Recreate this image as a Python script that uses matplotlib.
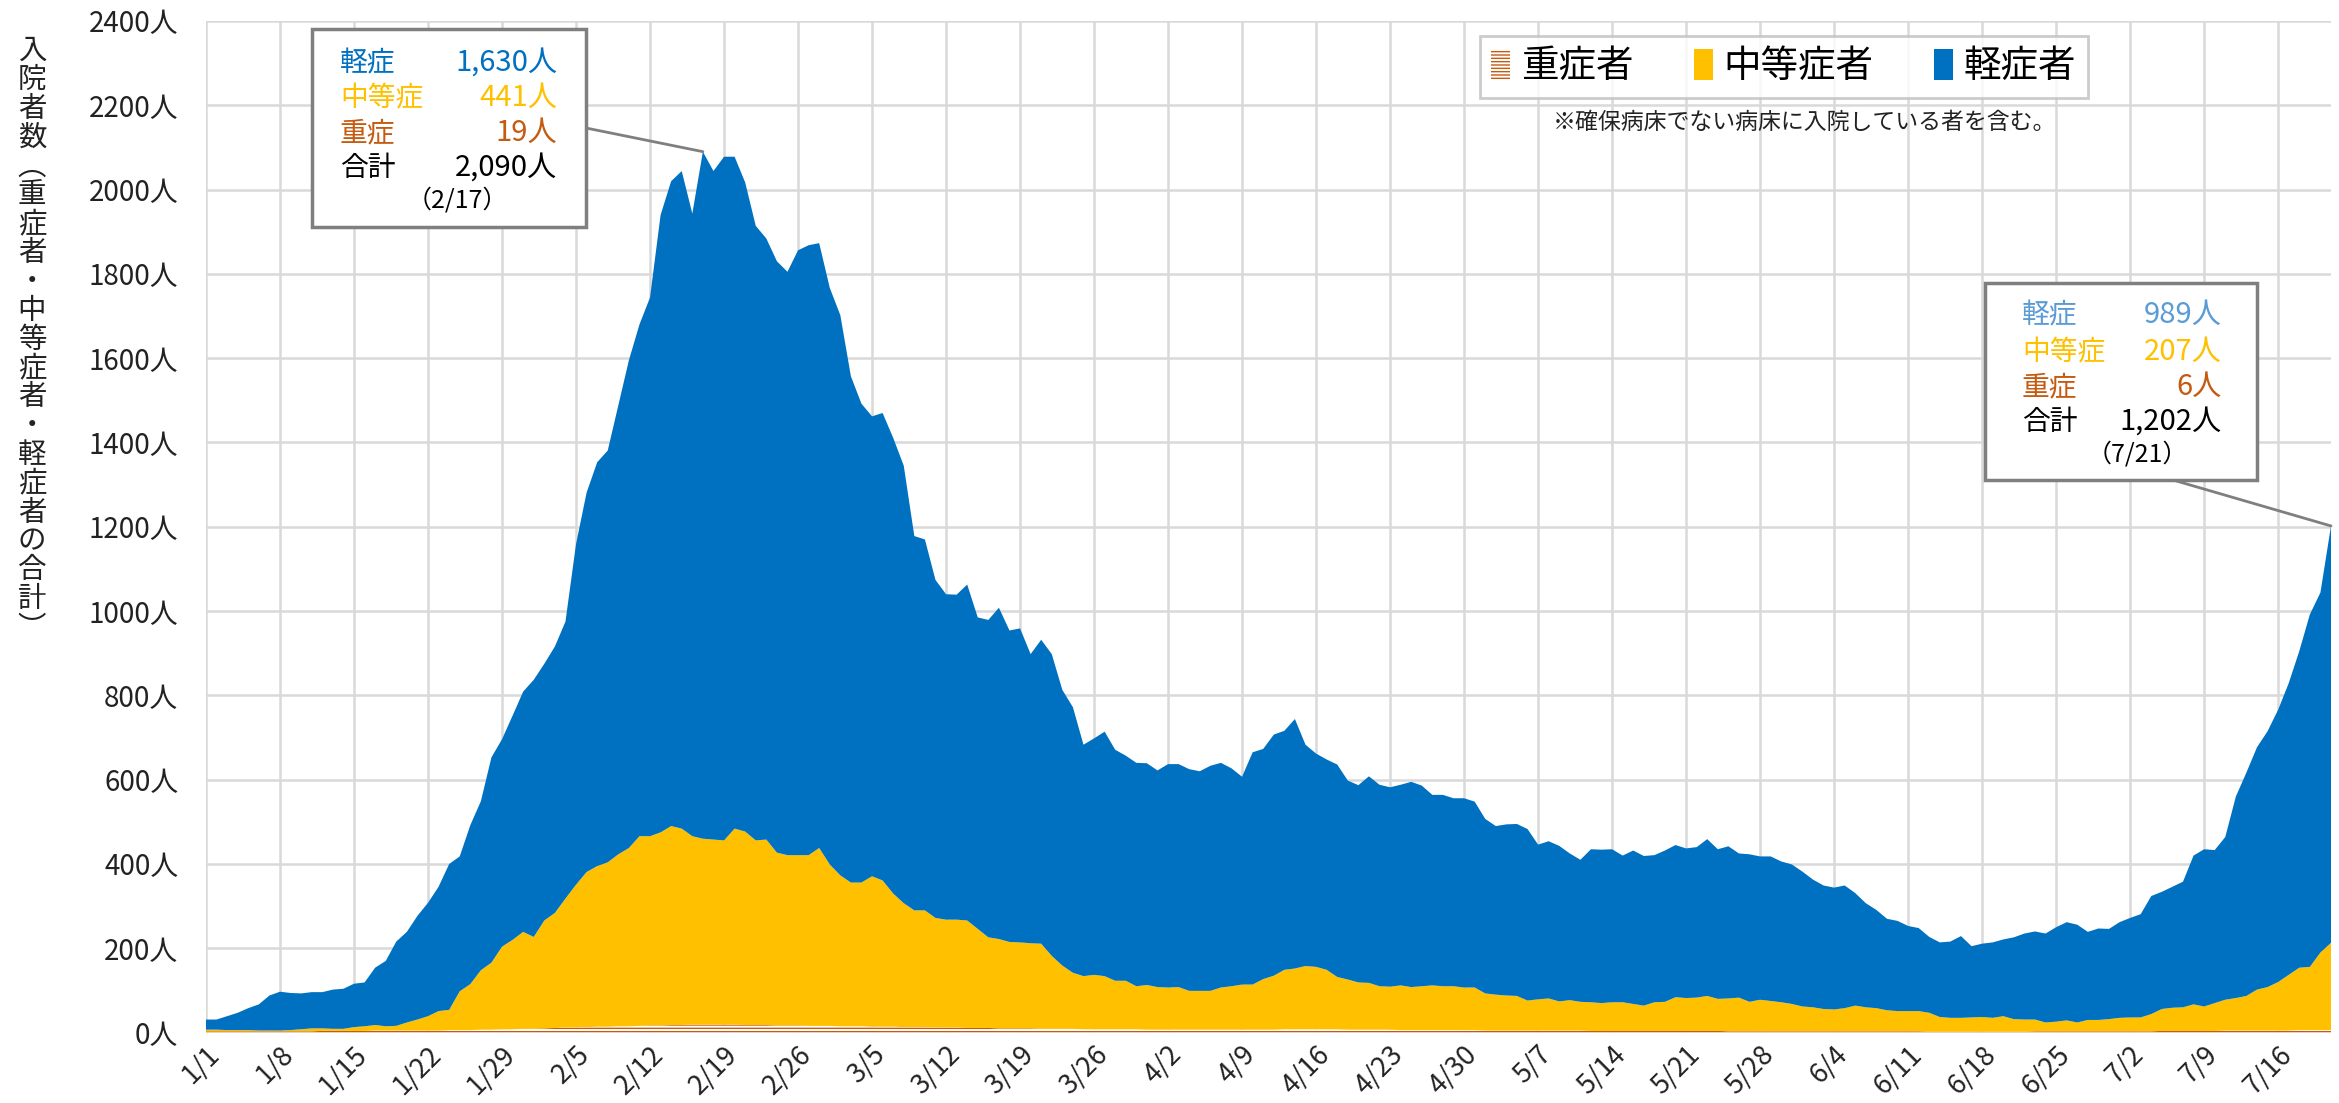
import matplotlib
matplotlib.use("Agg")
import matplotlib.pyplot as plt
from matplotlib.patches import Rectangle, Patch, ConnectionPatch

plt.rcParams["font.family"] = ["Noto Sans CJK JP", "DejaVu Sans"]

W, H = 2339, 1103


def fx(x):
    return x / W


def fy(y):
    return 1 - y / H


# daily values, 1/1 .. 7/21 (202 days)
severe = [
    3, 3, 3, 3, 3, 3, 3, 3, 3, 3, 3, 4, 4, 4, 4, 4, 5, 5, 5, 5, 5,
    5, 5, 6, 6, 6, 7, 7, 8, 8, 9, 9, 10, 11, 12, 12, 13, 14, 14, 15, 15, 16,
    17, 17, 18, 18, 19, 19, 19, 19, 19, 18, 18, 18, 17, 17, 17, 16, 16, 16, 15, 15, 15,
    14, 14, 14, 13, 13, 13, 12, 12, 12, 11, 11, 11, 10, 10, 10, 10, 9, 9, 9, 9, 8,
    8, 8, 8, 8, 8, 7, 7, 7, 7, 7, 7, 7, 7, 7, 7, 7, 7, 7, 8, 8, 8,
    8, 8, 8, 7, 7, 7, 7, 7, 6, 6, 6, 6, 6, 6, 6, 6, 5, 5, 5, 5, 5,
    5, 5, 5, 5, 5, 4, 4, 4, 4, 4, 4, 4, 4, 4, 4, 4, 4, 4, 3, 3, 3,
    3, 3, 3, 3, 3, 3, 3, 3, 3, 3, 3, 3, 3, 3, 3, 3, 2, 2, 2, 2, 2,
    2, 2, 2, 2, 2, 3, 3, 3, 3, 3, 3, 3, 3, 3, 3, 3, 3, 4, 4, 4, 4,
    4, 4, 5, 5, 5, 5, 5, 5, 5, 6, 6, 6, 6,
]
moderate = [
    4, 4, 3, 3, 3, 2, 2, 2, 3, 5, 7, 6, 5, 5, 9, 11, 13, 10, 11, 19, 26,
    34, 46, 48, 92, 109, 141, 159, 196, 212, 230, 218, 256, 273, 306, 339, 368, 381, 390, 408, 423, 450,
    449, 458, 472, 466, 447, 441, 439, 437, 465, 459, 438, 440, 410, 404, 404, 405, 422, 383, 358, 341, 341,
    357, 347, 316, 294, 277, 277, 260, 256, 256, 255, 235, 215, 212, 205, 204, 202, 202, 173, 150, 133, 126,
    129, 126, 115, 115, 102, 106, 101, 100, 101, 92, 92, 92, 100, 103, 107, 107, 120, 128, 141, 144, 150,
    148, 141, 124, 119, 112, 111, 103, 102, 106, 102, 104, 106, 104, 104, 101, 101, 88, 85, 83, 82, 71,
    74, 76, 69, 72, 68, 68, 66, 68, 68, 64, 60, 68, 69, 80, 78, 79, 83, 76, 78, 80, 70,
    75, 72, 69, 65, 59, 57, 53, 52, 55, 61, 57, 55, 50, 48, 48, 48, 45, 35, 33, 33, 34,
    35, 33, 37, 30, 29, 28, 21, 23, 26, 21, 27, 27, 29, 32, 33, 33, 41, 52, 55, 56, 63,
    58, 66, 73, 77, 82, 97, 103, 115, 132, 148, 150, 184, 207,
]
mild = [
    24, 24, 33, 41, 52, 62, 83, 92, 88, 85, 86, 86, 93, 95, 103, 104, 136, 155, 200, 215, 246,
    269, 295, 346, 320, 377, 401, 487, 492, 532, 570, 610, 609, 632, 657, 808, 900, 958, 977, 1065, 1157, 1214,
    1278, 1465, 1530, 1560, 1477, 1630, 1586, 1622, 1594, 1540, 1458, 1426, 1403, 1384, 1435, 1447, 1435, 1368, 1329, 1201, 1136,
    1091, 1109, 1081, 1038, 888, 880, 802, 772, 771, 797, 739, 753, 786, 739, 745, 686, 721, 716, 654, 630, 549,
    561, 580, 548, 534, 530, 526, 514, 530, 529, 526, 521, 534, 533, 517, 493, 551, 546, 572, 567, 592, 525,
    506, 499, 504, 472, 468, 490, 478, 473, 476, 487, 476, 452, 454, 446, 449, 441, 414, 400, 406, 408, 407,
    367, 373, 369, 348, 337, 363, 364, 363, 348, 364, 355, 349, 359, 361, 355, 357, 372, 355, 361, 342, 350,
    340, 343, 334, 331, 320, 303, 293, 289, 291, 267, 247, 233, 217, 214, 202, 197, 180, 177, 181, 194, 169,
    174, 179, 182, 194, 204, 209, 211, 224, 233, 232, 209, 217, 214, 227, 236, 245, 280, 278, 287, 298, 353,
    373, 363, 386, 478, 530, 575, 607, 646, 692, 751, 836, 854, 989,
]
tick_labels = [
    "1/1", "1/8", "1/15", "1/22", "1/29", "2/5", "2/12", "2/19", "2/26", "3/5",
    "3/12", "3/19", "3/26", "4/2", "4/9", "4/16", "4/23", "4/30", "5/7", "5/14",
    "5/21", "5/28", "6/4", "6/11", "6/18", "6/25", "7/2", "7/9", "7/16",
]
y_ticks = [0, 200, 400, 600, 800, 1000, 1200, 1400, 1600, 1800, 2000, 2200, 2400]
series_names = ["重症者", "中等症者", "軽症者"]

C_SEV, C_MOD, C_MILD = "#C55A11", "#FFC000", "#0070C0"
GRID = "#D9D9D9"

days = list(range(len(mild)))

fig = plt.figure(figsize=(W / 100, H / 100), dpi=100)
ax = fig.add_axes([fx(206), fy(1032.6), fx(2331) - fx(206), (1032.6 - 21) / H])

polys = ax.stackplot(days, severe, moderate, mild,
                     colors=["white", C_MOD, C_MILD], linewidth=0)
polys[0].set_edgecolor(C_SEV)
polys[0].set_hatch("-----")
polys[0].set_linewidth(0)

ax.set_xlim(0, len(days) - 1)
ax.set_ylim(0, 2400)
ax.set_xticks(range(0, 7 * len(tick_labels), 7))
ax.set_xticklabels(tick_labels, rotation=45, ha="right", rotation_mode="anchor",
                   fontsize=19.5, color="#222222")
ax.set_yticks(y_ticks)
ax.set_yticklabels([f"{v}人" for v in y_ticks], fontsize=20, color="#222222")
ax.tick_params(axis="both", length=0)
ax.tick_params(axis="y", pad=20)
ax.tick_params(axis="x", pad=6)
ax.grid(True, color=GRID, linewidth=1.8)
ax.set_axisbelow(True)
for s in ax.spines.values():
    s.set_visible(False)

# vertical y-axis title
ylab = "入院者数︵重症者・中等症者・軽症者の合計︶"
fig.text(fx(32), fy(36), "\n".join(ylab), ha="center", va="top",
         fontsize=20.5, linespacing=0.95, color="#222222")

# legend
handles = [
    Patch(facecolor="white", edgecolor=C_SEV, hatch="-----", linewidth=0, label=series_names[0]),
    Patch(facecolor=C_MOD, label=series_names[1]),
    Patch(facecolor=C_MILD, label=series_names[2]),
]
leg = fig.legend(handles=handles, loc="upper left", bbox_to_anchor=(fx(1480), fy(36)),
                 ncol=3, fontsize=27, frameon=True, fancybox=False, edgecolor="#BFBFBF",
                 handlelength=0.5, handleheight=0.9, handletextpad=0.3,
                 columnspacing=1.6, borderpad=0.3, borderaxespad=0)
leg.get_frame().set_linewidth(2)
fig.text(fx(1553), fy(122), "※確保病床でない病床に入院している者を含む。",
         fontsize=16.5, va="center", ha="left", color="#222222")


def callout(i, box, label_x, value_x, rows_y, date_y, date_x, date_txt, mild_color, anchor):
    x0, y0, x1, y1 = box
    fig.add_artist(Rectangle((fx(x0), fy(y1)), (x1 - x0) / W, (y1 - y0) / H,
                             transform=fig.transFigure, facecolor="white",
                             edgecolor="#7F7F7F", linewidth=2.5, zorder=5))
    total = severe[i] + moderate[i] + mild[i]
    rows = [("軽症", f"{mild[i]:,}人", mild_color),
            ("中等症", f"{moderate[i]:,}人", C_MOD),
            ("重症", f"{severe[i]:,}人", C_SEV),
            ("合計", f"{total:,}人", "black")]
    for (lab, val, col), yy in zip(rows, rows_y):
        fig.text(fx(label_x), fy(yy), lab, color=col, fontsize=20, va="center", ha="left", zorder=6)
        fig.text(fx(value_x), fy(yy), val, color=col, fontsize=21, va="center", ha="right", zorder=6)
    fig.text(fx(date_x), fy(date_y), date_txt, fontsize=18, va="center", ha="center", zorder=6)
    con = ConnectionPatch(xyA=(fx(anchor[0]), fy(anchor[1])), coordsA=fig.transFigure,
                          xyB=(i, total), coordsB=ax.transData,
                          color="#7F7F7F", linewidth=2)
    fig.add_artist(con)


callout(47, (312, 29, 586, 227), 340, 557, [63, 98, 133, 168], 200, 457,
        "（2/17）", C_MILD, (586, 128))
callout(201, (1985, 283, 2257, 480), 2022, 2222, [315, 352, 387, 422], 455, 2137,
        "（7/21）", "#5B9BD5", (2173, 480))

fig.savefig("out.png", dpi=100)
